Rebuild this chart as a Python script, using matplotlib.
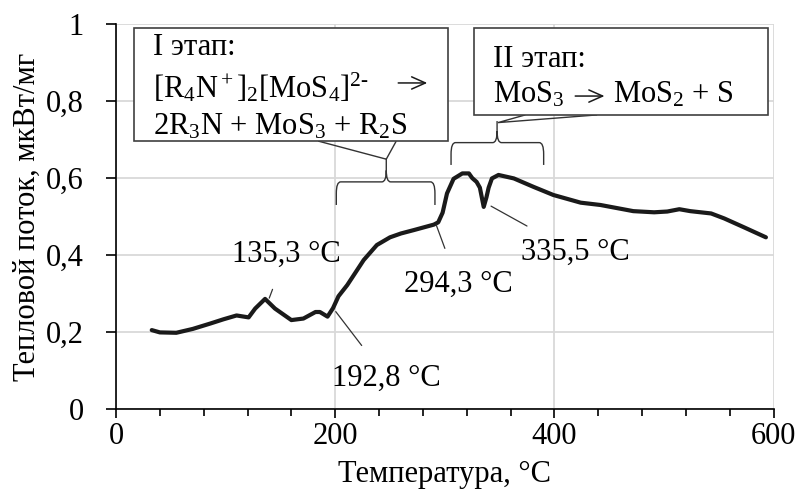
import numpy as np
import matplotlib.pyplot as plt
from matplotlib.patches import Rectangle, PathPatch, Polygon
from matplotlib.path import Path

plt.rcParams['font.family'] = ['Liberation Serif', 'DejaVu Serif']
plt.rcParams['mathtext.fontset'] = 'custom'
plt.rcParams['mathtext.rm'] = 'Liberation Serif'
plt.rcParams['mathtext.it'] = 'Liberation Serif:italic'
plt.rcParams['font.size'] = 22

# DSC curve
temp = [32.6, 40, 55, 70, 86, 98, 110, 121, 127, 136, 145, 160, 171, 182, 186,
        193, 198, 203, 211, 226, 238, 250, 260, 272, 290, 294, 298, 302, 308,
        316, 322, 325, 329, 332, 335.5, 338, 340, 343, 349, 363, 381, 399, 424,
        442, 472, 491, 503, 514, 524, 543, 555, 573, 593]
heat = [0.205, 0.199, 0.198, 0.208, 0.222, 0.233, 0.243, 0.238, 0.261, 0.286,
        0.261, 0.231, 0.235, 0.252, 0.252, 0.240, 0.262, 0.293, 0.322, 0.387,
        0.426, 0.446, 0.456, 0.465, 0.479, 0.485, 0.51, 0.56, 0.598, 0.612,
        0.612, 0.60, 0.59, 0.575, 0.525, 0.55, 0.575, 0.599, 0.608, 0.599,
        0.577, 0.556, 0.536, 0.53, 0.514, 0.511, 0.513, 0.519, 0.514, 0.508,
        0.495, 0.472, 0.446]

peak_labels = ['135,3 °C', '192,8 °C', '294,3 °C', '335,5 °C']
peak_xy = [(139.8, 0.288), (200.5, 0.253), (292.2, 0.478), (342.2, 0.527)]
text_xy = [(155, 0.403), (247, 0.08), (312, 0.325), (419, 0.406)]

fig = plt.figure(figsize=(7.99, 4.91), dpi=100)
ax = fig.add_axes([0.1452, 0.167, 0.823, 0.784])

ax.plot(temp, heat, color='#1a1a1a', lw=3.0, solid_joinstyle='round',
        solid_capstyle='round', zorder=3)

ax.set_xlim(0, 600)
ax.set_ylim(0, 1)
ax.set_xticks([0, 200, 400, 600])
ax.set_xticks(np.arange(0, 601, 40), minor=True)
ax.set_yticks([0, 0.2, 0.4, 0.6, 0.8, 1.0])
ax.set_yticklabels(['0', '0,2', '0,4', '0,6', '0,8', '1'])
ax.grid(True, which='major', color='#d9d9d9', lw=1.3, zorder=0)
for s in ['top', 'right']:
    ax.spines[s].set_visible(False)
for s in ['left', 'bottom']:
    ax.spines[s].set_linewidth(1.2)
ax.tick_params(axis='y', which='major', direction='out', length=7, width=1.2, pad=16)
ax.tick_params(axis='x', which='major', direction='out', length=6.5, width=1.2, pad=3)
ax.tick_params(axis='x', which='minor', direction='out', length=5, width=1.2)
ax.set_xlabel('Температура, °C', labelpad=6)
ax.set_ylabel('Тепловой поток, мкВт/мг', labelpad=3)

# peak annotations
for lab, p, t in zip(peak_labels, peak_xy, text_xy):
    ax.annotate(lab, xy=p, xytext=t, ha='center', va='center',
                arrowprops=dict(arrowstyle='-', color='#333333', lw=0.9,
                                shrinkA=14, shrinkB=0), zorder=4)


def brace(x0, x1, xm, y_end, y_h, y_tip, rx=4, ry=0.03):
    verts = [(x0, y_end), (x0, y_h - ry), (x0, y_h), (x0 + rx, y_h),
             (xm - rx, y_h), (xm, y_h), (xm, y_h + ry), (xm, y_tip),
             (xm, y_h + ry), (xm, y_h), (xm + rx, y_h),
             (x1 - rx, y_h), (x1, y_h), (x1, y_h - ry), (x1, y_end)]
    codes = [Path.MOVETO, Path.LINETO, Path.CURVE3, Path.CURVE3,
             Path.LINETO, Path.CURVE3, Path.CURVE3, Path.LINETO,
             Path.MOVETO, Path.CURVE3, Path.CURVE3,
             Path.LINETO, Path.CURVE3, Path.CURVE3, Path.LINETO]
    ax.add_patch(PathPatch(Path(verts, codes), fill=False, ec='#333333',
                           lw=1.0, zorder=4, clip_on=False))


def arrow(x0, x1, y):
    ax.annotate('', xy=(x1, y), xytext=(x0, y),
                arrowprops=dict(arrowstyle='->,head_length=0.45,head_width=0.2',
                                color='#1a1a1a', lw=1.1, shrinkA=0, shrinkB=0),
                zorder=6)


brace(201, 291, 246.6, 0.53, 0.59, 0.652)
brace(305.7, 390.2, 347.7, 0.634, 0.692, 0.748)

# callout boxes
ax.add_patch(Polygon([(184.5, 0.696), (246.6, 0.649), (255.7, 0.696)],
                     closed=False, fill=False, ec='#333333', lw=1.0, zorder=5))
ax.add_patch(Rectangle((16.4, 0.696), 286.8, 0.294, fc='white', ec='#404040',
                       lw=1.2, zorder=5))
ax.add_patch(Polygon([(373.5, 0.764), (348.5, 0.744), (439, 0.764)],
                     closed=False, fill=False, ec='#333333', lw=1.0, zorder=5))
ax.add_patch(Rectangle((326.3, 0.764), 269, 0.226, fc='white', ec='#404040',
                       lw=1.2, zorder=5))

ax.text(33.8, 0.919, 'I этап:', va='baseline', zorder=6)
ax.text(33.8, 0.808, r'[R$_4$N$^+$]$_2$[MoS$_4$]$^{\text{2-}}$', va='baseline', zorder=6)
arrow(257.5, 284, 0.847)
ax.text(33.8, 0.712, r'2R$_3$N + MoS$_3$ + R$_2$S', va='baseline', zorder=6)
ax.text(344.3, 0.889, 'II этап:', va='baseline', zorder=6)
ax.text(344.3, 0.795, r'MoS$_3$', va='baseline', zorder=6)
arrow(419, 445.7, 0.813)
ax.text(453.9, 0.795, r'MoS$_2$ + S', va='baseline', zorder=6)

fig.savefig('out.png', dpi=100)
